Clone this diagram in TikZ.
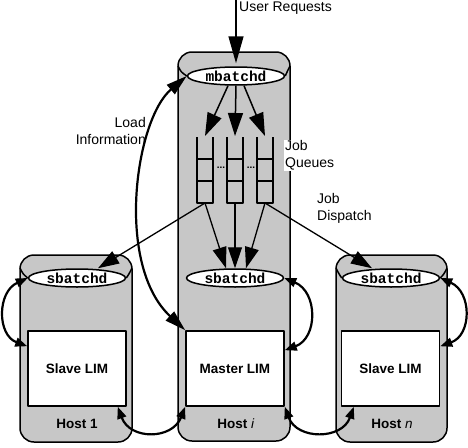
\documentclass[tikz,border=0pt]{standalone}
\usepackage{fontspec}
\setmainfont{Liberation Sans}
\setmonofont{Liberation Mono}
\usetikzlibrary{arrows.meta,shapes.geometric,calc}

\tikzset{
  host/.style={draw=black, line width=1.5pt, fill=black!22, rounded corners=14pt},
  daemon/.style={ellipse, draw, line width=1.5pt, fill=white, minimum width=97pt,
    minimum height=18pt, inner sep=0pt, font=\fontsize{14.5}{14.5}\selectfont\ttfamily\bfseries},
  lim/.style={draw, line width=1.5pt, fill=white, minimum width=98pt, minimum height=75pt,
    inner sep=0pt, font=\fontsize{13.5}{16}\selectfont\bfseries},
  hostlabel/.style={font=\fontsize{13.5}{16}\selectfont\bfseries},
  plain/.style={font=\fontsize{14}{17}\selectfont, inner sep=0pt},
  bighead/.style={line width=1.5pt, -{Triangle[length=23pt,width=15pt]}},
  dispatch/.style={line width=1.3pt, -{Triangle[length=21pt,width=14pt]}},
  twoway/.style={line width=2.2pt, {Triangle[length=12pt,width=9pt]}-{Triangle[length=12pt,width=9pt]}},
}

\begin{document}
\begin{tikzpicture}[x=1pt, y=-1pt, line join=round]
    \useasboundingbox (0,0) rectangle (468,447);
    %Hosts
    \draw[host] (20,255) rectangle (132,442);
    \draw[host] (178,52) rectangle (290,441);
    \draw[host] (336,255) rectangle (447,442);
    %Daemons
    \node[daemon] (mb) at (236,76) {mbatchd};
    \node[daemon] (sb1) at (77,278) {sbatchd};
    \node[daemon] (sbi) at (235,278) {sbatchd};
    \node[daemon] (sbn) at (391,278) {sbatchd};
    %Cylinder tops
    \draw[line width=1.5pt] (178,66) .. controls (181,72) .. (mb.west);
    \draw[line width=1.5pt] (290,66) .. controls (287,72) .. (mb.east);
    \draw[line width=1.5pt] (20,268) .. controls (23,274) .. (sb1.west);
    \draw[line width=1.5pt] (132,268) .. controls (129,274) .. (sb1.east);
    \draw[line width=1.5pt] (336,268) .. controls (339,274) .. (sbn.west);
    \draw[line width=1.5pt] (447,268) .. controls (444,274) .. (sbn.east);
    %LIMs
    \node[lim] (lim1) at (77,368.5) {Slave LIM};
    \node[lim] (limi) at (235,368.5) {Master LIM};
    \node[lim] (limn) at (390.5,368.5) {Slave LIM};
    %Host labels
    \node[hostlabel] (h1) at (77,424) {Host 1};
    \node[hostlabel] (hi) at (236,424) {Host \textmd{\itshape i}};
    \node[hostlabel] (hn) at (392,424) {Host \textmd{\itshape n}};
    %Queues
    \foreach \x/\n in {205/1,235/2,265/3} {
        \draw[line width=1.5pt] (\x-8,137) -- (\x-8,203) -- (\x+8,203) -- (\x+8,137);
        \draw[line width=1.5pt] (\x-8,159) -- (\x+8,159) (\x-8,181) -- (\x+8,181);
        \coordinate (q\n top) at (\x,136);
        \coordinate (q\n bot) at (\x,203);
    }
    \node[font=\fontsize{10}{10}\selectfont\bfseries, inner sep=0pt] (dots1) at (221,168) {...};
    \node[font=\fontsize{10}{10}\selectfont\bfseries, inner sep=0pt] (dots2) at (251,168) {...};
    %Requests
    \node[plain, anchor=west] (ur) at (239,8) {User Requests};
    \coordinate (urtop) at (236,0);
    \draw[line width=1.5pt, -{Triangle[length=27pt,width=15pt]}, shorten >=3pt] (urtop) -- (mb.north);
    %Into queues
    \draw[bighead] ($(mb.south)+(-8,0)$) -- (q1top);
    \draw[bighead] (mb.south) -- (q2top);
    \draw[bighead] ($(mb.south)+(8,0)$) -- (q3top);
    %Dispatch
    \draw[dispatch] (q1bot) -- ($(sb1.north)+(21,0)$);
    \draw[dispatch] (q1bot) -- ($(sbi.north)+(-9,0)$);
    \draw[dispatch] (q2bot) -- (sbi.north);
    \draw[dispatch] (q3bot) -- ($(sbi.north)+(11,0)$);
    \draw[dispatch] (q3bot) -- ($(sbn.north)+(-19,0)$);
    %Load information
    \draw[line width=2.2pt, {Triangle[length=21pt,width=12pt]}-{Triangle[length=21pt,width=12pt]}]
        (mb.west) .. controls (135,120) and (115,265) .. (limi.north west);
    %sbatchd to LIM
    \draw[twoway] (sb1.west) .. controls (-3,292) and (-3,335) .. ($(lim1.north west)+(0,16)$);
    \draw[twoway] (sbi.east) .. controls (318,292) and (318,338) .. ($(limi.north east)+(0,20)$);
    \draw[twoway] (sbn.east) .. controls (472,292) and (472,335) .. ($(limn.north east)+(0,16)$);
    %LIM to LIM
    \draw[twoway] ($(lim1.south east)+(-9,0)$) .. controls (130,440) and (172,440) .. (limi.south west);
    \draw[twoway] (limi.south east) .. controls (297,440) and (342,440) .. ($(limn.south west)+(13,0)$);
    %Labels
    \node[plain, anchor=east, align=right] (load) at (146,131) {Load\\Information};
    \node[plain, anchor=west, align=left, fill=white, inner sep=1pt] (jq) at (284,155.5) {Job\\Queues};
    \node[plain, anchor=west, align=left] (jd) at (317,208.5) {Job\\Dispatch};
\end{tikzpicture}
\end{document}
